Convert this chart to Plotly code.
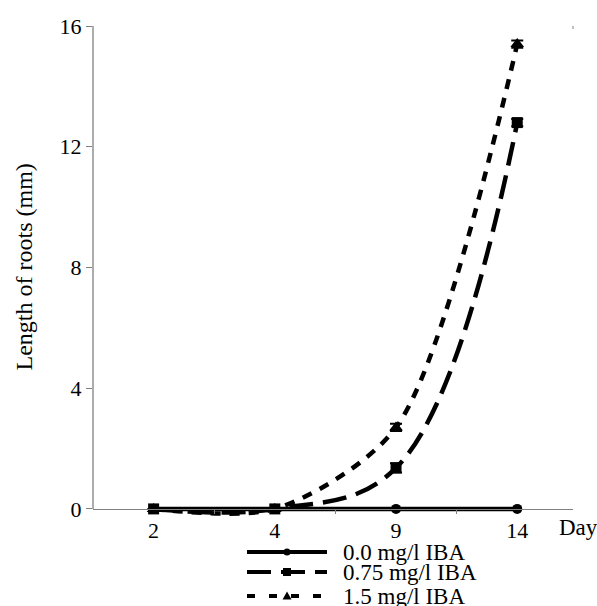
import plotly.graph_objects as go

# Root length (mm) measured on each sampling day for three IBA concentrations
days = ["2", "4", "9", "14"]
iba_0_0 = [0.0, 0.0, 0.0, 0.0]
iba_0_75 = [0.0, 0.0, 1.36, 12.8]
iba_1_5 = [0.0, 0.0, 2.7, 15.4]
err_0_75 = [0.0, 0.0, 0.15, 0.12]
err_1_5 = [0.0, 0.0, 0.12, 0.12]

series_names = ["0.0 mg/l IBA", "0.75 mg/l IBA", "1.5 mg/l IBA"]
y_ticks = [0, 4, 8, 12, 16]

W, H = 597, 606
ML, MR, MT, MB = 93, 24, 26, 82
Y_MIN, Y_MAX = -0.5, 16
X_MIN, X_MAX = -0.5, 3.46
FONT = "Liberation Serif, Times New Roman, serif"
AXIS_GREY = "#808080"

x_idx = list(range(len(days)))

fig = go.Figure()

common = dict(mode="lines+markers", line_shape="spline", cliponaxis=False,
              showlegend=False, hoverinfo="skip")

fig.add_trace(go.Scatter(
    x=x_idx, y=iba_0_0, name=series_names[0],
    line=dict(color="black", width=4.5, smoothing=1.0),
    marker=dict(symbol="circle", size=10, color="black"),
    **common))

fig.add_trace(go.Scatter(
    x=x_idx, y=iba_1_5, name=series_names[2],
    line=dict(color="black", width=4.5, dash="10px,9px", smoothing=0.8),
    marker=dict(symbol="triangle-up", size=12, color="black"),
    error_y=dict(type="data", array=err_1_5, visible=True, color="black",
                 thickness=2, width=6),
    **common))

fig.add_trace(go.Scatter(
    x=x_idx, y=iba_0_75, name=series_names[1],
    line=dict(color="black", width=4.5, dash="24px,10px", smoothing=1.1),
    marker=dict(symbol="square", size=11, color="black"),
    error_y=dict(type="data", array=err_0_75, visible=True, color="black",
                 thickness=2, width=6),
    **common))

plot_h = H - MT - MB
plot_w = W - ML - MR
x_axis_pos = (0 - Y_MIN) / (Y_MAX - Y_MIN)


def px_to_paper_x(px):
    return (px - ML) / plot_w


def px_to_paper_y(py):
    return (H - MB - py) / plot_h


shapes = [
    # left axis line from 0 to the top of the scale
    dict(type="line", xref="paper", yref="y", x0=0, x1=0, y0=0, y1=Y_MAX,
         line=dict(color=AXIS_GREY, width=1.3), layer="below"),
    # small corner mark at the top right
    dict(type="line", xref="paper", yref="y", x0=1, x1=1,
         y0=Y_MAX, y1=Y_MAX - 0.1,
         line=dict(color=AXIS_GREY, width=1), layer="below"),
]
annotations = [
    dict(text="Day", xref="paper", yref="y", x=px_to_paper_x(557), y=0,
         xanchor="left", yanchor="top", yshift=-4, showarrow=False,
         font=dict(family=FONT, size=23, color="black")),
    dict(text="Length of roots (mm)", xref="paper", yref="y",
         x=px_to_paper_x(24), y=Y_MAX / 2, xanchor="center",
         yanchor="middle", textangle=-90, showarrow=False,
         font=dict(family=FONT, size=24, color="black")),
]

# hand-built key below the plot
legend_rows = [552, 572, 596]
legend_dash = ["solid", "24px,10px", "8px,14px"]
line_x0, line_x1, text_x = 247, 327, 341
marker_x = 287
for i, name in enumerate(series_names):
    py = legend_rows[i]
    ypp = px_to_paper_y(py)
    shapes.append(dict(type="line", xref="paper", yref="paper",
                       x0=px_to_paper_x(line_x0), x1=px_to_paper_x(line_x1),
                       y0=ypp, y1=ypp,
                       line=dict(color="black", width=4, dash=legend_dash[i])))
    anchor = dict(xref="paper", yref="paper", xsizemode="pixel",
                  ysizemode="pixel", xanchor=px_to_paper_x(marker_x),
                  yanchor=ypp, fillcolor="black",
                  line=dict(color="black", width=0))
    if i == 0:
        shapes.append(dict(type="circle", x0=-3.5, x1=3.5, y0=-3.5, y1=3.5,
                           **anchor))
    elif i == 1:
        shapes.append(dict(type="rect", x0=-4, x1=4, y0=-4, y1=4, **anchor))
    else:
        shapes.append(dict(type="path", path="M -4.5,-3.5 L 4.5,-3.5 L 0,4.5 Z",
                           **anchor))
    annotations.append(dict(text=name, xref="paper", yref="paper",
                            x=px_to_paper_x(text_x), y=ypp, xanchor="left",
                            yanchor="middle", showarrow=False,
                            font=dict(family=FONT, size=23, color="black")))

fig.update_layout(
    width=W, height=H,
    margin=dict(l=ML, r=MR, t=MT, b=MB, pad=0),
    paper_bgcolor="white", plot_bgcolor="white",
    font=dict(family=FONT, size=22, color="black"),
    shapes=shapes, annotations=annotations,
    xaxis=dict(
        range=[X_MIN, X_MAX], anchor="free", position=x_axis_pos,
        showline=True, linecolor=AXIS_GREY, linewidth=1.3,
        showgrid=False, zeroline=False,
        tickmode="array", tickvals=x_idx, ticktext=days, ticks="",
        ticklabelstandoff=2,
        minor=dict(tickmode="array", tickvals=[0.5, 1.5, 2.5], ticks="outside",
                   ticklen=4, tickcolor=AXIS_GREY, tickwidth=1.3),
        tickfont=dict(family=FONT, size=22, color="black"),
    ),
    yaxis=dict(
        range=[Y_MIN, Y_MAX], showline=False, showgrid=False, zeroline=False,
        tickmode="array", tickvals=y_ticks, ticks="outside",
        ticklen=6, tickcolor=AXIS_GREY, tickwidth=1.3,
        tickfont=dict(family=FONT, size=22, color="black"),
    ),
)

fig.write_html("out.html")
